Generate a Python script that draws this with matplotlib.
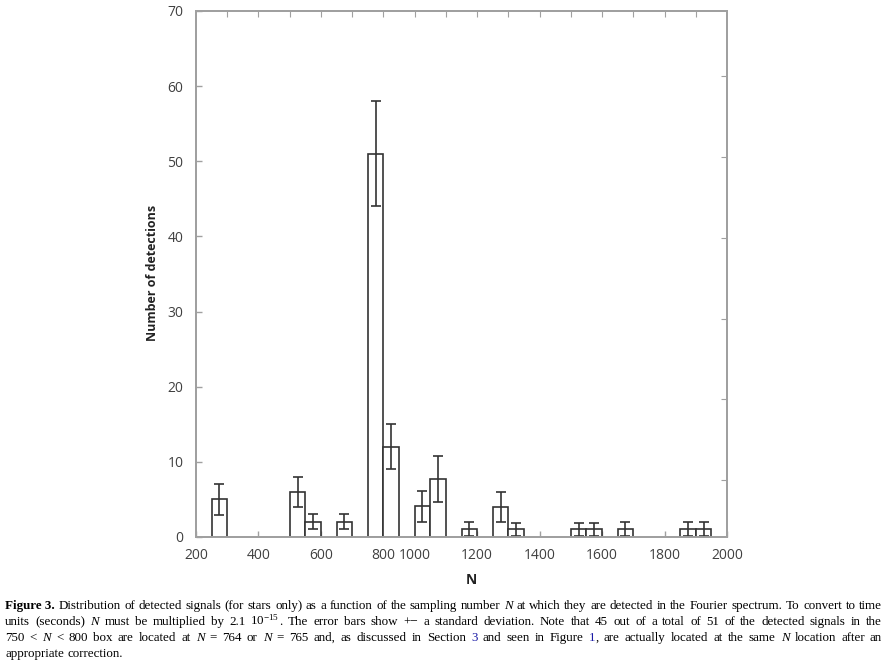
import matplotlib
matplotlib.use('Agg')
import matplotlib.pyplot as plt
from matplotlib.backends.backend_agg import get_hinting_flag
import numpy as np

# bins of width 50 in N (left edges), counts and standard deviation
bin_left = [250, 500, 550, 650, 750, 800, 1000, 1050, 1150, 1250, 1300, 1500, 1550, 1650, 1850, 1900]
counts = [5, 6, 2, 2, 51, 12, 4.1, 7.7, 1.1, 4, 1, 1, 1, 1.1, 1.1, 1.1]
errors = [2.05, 2, 1, 1, 7, 3, 2.05, 3.05, 0.95, 2.05, 0.9, 0.9, 0.9, 0.95, 0.95, 0.95]
bin_width = 50

x_ticks = [200, 400, 600, 800, 1000, 1200, 1400, 1600, 1800, 2000]
y_ticks = [0, 10, 20, 30, 40, 50, 60, 70]

W, H = 885, 669


def axis_pos(n):
    # the original axis skips one empty stretch between 850 and 950
    n = np.asarray(n, dtype=float)
    return np.where(n < 900, n, n - 100)


plt.rcParams['mathtext.fontset'] = 'custom'
plt.rcParams['mathtext.rm'] = 'Liberation Serif'
plt.rcParams['mathtext.it'] = 'Liberation Serif:italic'
plt.rcParams['mathtext.bf'] = 'Liberation Serif:bold'

fig = plt.figure(figsize=(W / 100, H / 100), dpi=100)
ax = fig.add_axes([196 / W, 1 - 537 / H, (727 - 196) / W, (537 - 11) / H])

spine_col = '#a0a0a0'
label_col = '#404040'
bar_col = '#333333'

left = axis_pos(bin_left)
ax.bar(left, counts, width=bin_width, align='edge', facecolor='white',
       edgecolor=bar_col, linewidth=1.2, zorder=3)
ax.errorbar(left + bin_width / 2, counts, yerr=errors, fmt='none', ecolor=bar_col,
            elinewidth=1.2, capsize=3.5, capthick=1.2, zorder=4)

ax.set_xlim(200, 1900)
ax.set_ylim(0, 70)
ax.set_xticks(axis_pos(x_ticks))
ax.set_xticklabels([str(t) for t in x_ticks])
ax.set_yticks(y_ticks)
for s in ax.spines.values():
    s.set_color(spine_col)
    s.set_linewidth(1.2)
ax.tick_params(axis='both', direction='in', length=4, color=spine_col, width=1,
               labelsize=10, labelcolor=label_col)
ax.tick_params(axis='y', pad=9)
ax.tick_params(axis='x', pad=8)
for lab in ax.get_xticklabels() + ax.get_yticklabels():
    lab.set_family('Open Sans')

# unlabelled ticks on the top and right frame
top = ax.twiny()
top.set_xlim(ax.get_xlim())
top.set_xticks(np.arange(300, 1801, 100))
top.tick_params(direction='in', length=4, color=spine_col, labeltop=False)
right = ax.twinx()
right.set_ylim(0, 6.5)
right.set_yticks(np.arange(0.7, 5.8, 1.0))
right.tick_params(direction='in', length=4, color=spine_col, labelright=False)
for a in (top, right):
    for s in a.spines.values():
        s.set_color(spine_col)
        s.set_linewidth(1.2)

fig.text(152 / W, 1 - 272.5 / H, 'Number of detections', rotation=90, ha='center', va='center',
         fontsize=9, fontweight='bold', family='Open Sans', color='#222222')
fig.text(471 / W, 1 - 580 / H, 'N', ha='center', va='center',
         fontsize=10, fontweight='bold', family='Open Sans', color='#222222')


# ---- caption, set word by word and justified ----
def w(t):
    return [(t, {})]


def it(t):
    return [(t, {'style': 'italic'})]


def ws(s):
    return [w(x) for x in s.split()]


blue = '#1a1aa6'
caption = [
    ([[('Figure 3.', {'weight': 'bold'})]]
     + ws('Distribution of detected signals (for stars only) as a function of the sampling number')
     + [it('N')] + ws('at which they are detected in the Fourier spectrum. To convert to time'), True),
    (ws('units (seconds)') + [it('N')] + ws('must be multiplied by 2.1')
     + [[('$10^{-15}$', {}), ('.', {})]]
     + ws('The error bars show +\u2212 a standard deviation. Note that 45 out of a total of 51 of the detected signals in the'), True),
    (ws('750 <') + [it('N')] + ws('< 800 box are located at') + [it('N')] + ws('= 764 or') + [it('N')]
     + ws('= 765 and, as discussed in Section') + [[('3', {'color': blue})]]
     + ws('and seen in Figure') + [[('1', {'color': blue}), (',', {})]]
     + ws('are actually located at the same') + [it('N')] + ws('location after an'), True),
    (ws('appropriate correction.'), False),
]

cap_size = 9.4
x0, x1 = 5, 882
baselines = [609, 625, 641, 657]
renderer = fig.canvas.get_renderer()


def baseline_from_top(txt, row):
    # place the baseline so that Agg's pixel rounding puts every word on the same row
    if '$' in txt.get_text():
        return row - 0.5
    font = renderer._prepare_font(txt.get_fontproperties())
    font.set_text(txt.get_text(), 0.0, flags=get_hinting_flag())
    d26 = font.get_descent()
    h26 = font.get_width_height()[1]
    r = row - (h26 - d26) // 64 + h26 // 64
    return r - d26 / 64.0


for (words, justify), row in zip(caption, baselines):
    items = []
    for word in words:
        parts = []
        for txt, props in word:
            t = fig.text(0, 0, txt, fontsize=cap_size, family='Liberation Serif',
                         va='baseline', ha='left', color=props.get('color', 'black'),
                         fontweight=props.get('weight', 'normal'), style=props.get('style', 'normal'))
            parts.append(t)
        items.append(parts)
    widths = [[t.get_window_extent(renderer).width for t in parts] for parts in items]
    total = sum(sum(wd) for wd in widths)
    if justify:
        gap = (x1 - x0 - total) / (len(items) - 1)
    else:
        gap = cap_size * 100 / 72 * 0.25
    x = x0
    for parts, wds in zip(items, widths):
        for t, wd in zip(parts, wds):
            t.set_x(x / W)
            t.set_y(1 - baseline_from_top(t, row) / H)
            x += wd
        x += gap

fig.savefig('out.png', dpi=100)
